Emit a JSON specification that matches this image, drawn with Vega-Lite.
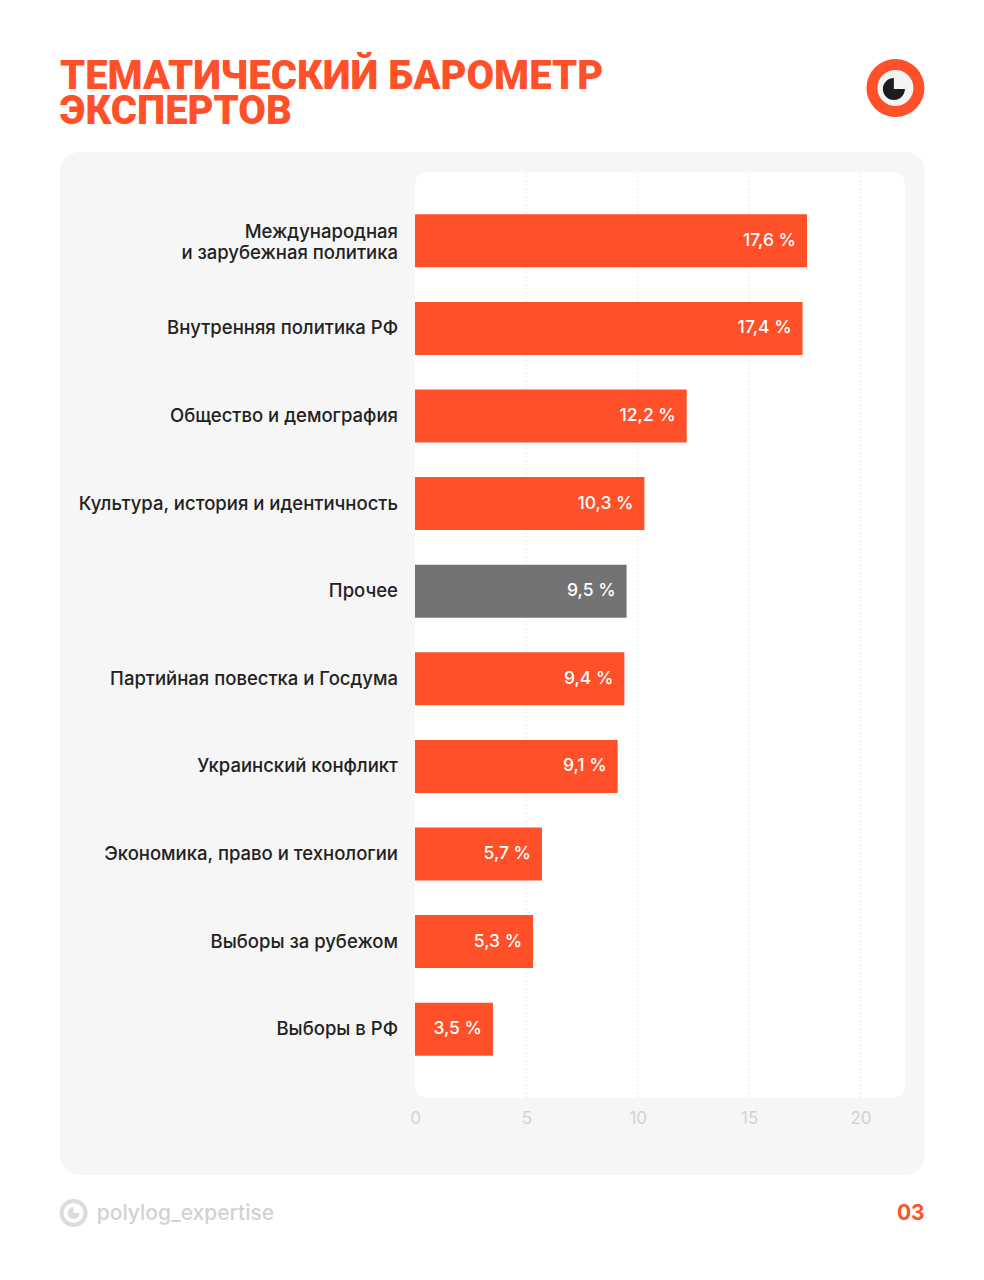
{
  "$schema": "https://vega.github.io/schema/vega-lite/v6.json",
  "width": 865,
  "height": 1023,
  "autosize": {"type": "none"},
  "padding": {"left": 60, "top": 152, "right": 59, "bottom": 105},
  "background": "#ffffff",
  "title": {
    "text": ["ТЕМАТИЧЕСКИЙ БАРОМЕТР", "ЭКСПЕРТОВ"],
    "anchor": "start",
    "frame": "group",
    "font": "Roboto",
    "fontWeight": 900,
    "fontSize": 40,
    "lineHeight": 35,
    "color": "#FF5029",
    "offset": -73
  },
  "layer": [
    {
      "data": {"values": [{}]},
      "layer": [
        {
          "mark": {"type": "rect", "fill": "#ffffff", "cornerRadius": 12},
          "encoding": {
            "x": {"datum": 0},
            "x2": {"datum": 22},
            "y": {"datum": 172, "scale": {"domain": [0, 1280], "range": [-152, 1128], "nice": false, "zero": false}, "axis": null},
            "y2": {"datum": 1098}
          }
        },
        {
          "data": {"values": [{"tick": 5}, {"tick": 10}, {"tick": 15}, {"tick": 20}]},
          "mark": {"type": "rule", "stroke": "#e9e9e9", "strokeWidth": 1, "strokeDash": [2, 2]},
          "encoding": {
            "x": {"field": "tick", "type": "quantitative"},
            "y": {"datum": 172},
            "y2": {"datum": 1098}
          }
        },
        {
          "mark": {"type": "arc", "radius": 29, "radius2": 0, "theta": 0, "theta2": 6.2832, "fill": "#FF5029"},
          "encoding": {"x": {"datum": 21.57}, "y": {"datum": 88}}
        },
        {
          "mark": {"type": "arc", "radius": 18, "radius2": 0, "theta": 0, "theta2": 6.2832, "fill": "#f4f4f4"},
          "encoding": {"x": {"datum": 21.57}, "y": {"datum": 88}}
        },
        {
          "mark": {"type": "arc", "radius": 11, "radius2": 0, "theta": 1.5708, "theta2": 6.2832, "fill": "#1c1c1c"},
          "encoding": {"x": {"datum": 21.5}, "y": {"datum": 89}}
        },
        {
          "mark": {"type": "arc", "radius": 14, "radius2": 10, "theta": 0, "theta2": 6.2832, "fill": "#dcdcdc"},
          "encoding": {"x": {"datum": -15.33}, "y": {"datum": 1213}}
        },
        {
          "mark": {"type": "arc", "radius": 6, "radius2": 0, "theta": 1.5708, "theta2": 6.2832, "fill": "#dcdcdc"},
          "encoding": {"x": {"datum": -15.33}, "y": {"datum": 1213}}
        },
        {
          "mark": {"type": "text", "text": "polylog_expertise", "align": "left", "baseline": "middle", "font": "Inter", "fontSize": 21, "fontWeight": 500, "color": "#d2d2d2"},
          "encoding": {"x": {"datum": -14.29}, "y": {"datum": 1214}}
        },
        {
          "mark": {"type": "text", "text": "03", "align": "right", "baseline": "middle", "font": "Inter", "fontSize": 21, "fontWeight": 700, "color": "#FF5029"},
          "encoding": {"x": {"datum": 22.88}, "y": {"datum": 1214}}
        }
      ]
    },
    {
      "data": {
        "values": [
          {"topic": "Международная\nи зарубежная политика", "share": 17.6, "kind": "theme"},
          {"topic": "Внутренняя политика РФ", "share": 17.4, "kind": "theme"},
          {"topic": "Общество и демография", "share": 12.2, "kind": "theme"},
          {"topic": "Культура, история и идентичность", "share": 10.3, "kind": "theme"},
          {"topic": "Прочее", "share": 9.5, "kind": "other"},
          {"topic": "Партийная повестка и Госдума", "share": 9.4, "kind": "theme"},
          {"topic": "Украинский конфликт", "share": 9.1, "kind": "theme"},
          {"topic": "Экономика, право и технологии", "share": 5.7, "kind": "theme"},
          {"topic": "Выборы за рубежом", "share": 5.3, "kind": "theme"},
          {"topic": "Выборы в РФ", "share": 3.5, "kind": "theme"}
        ]
      },
      "encoding": {
        "y": {
          "field": "topic",
          "type": "nominal",
          "sort": null,
          "axis": null,
          "scale": {"range": [20, 946], "paddingInner": 0.395, "paddingOuter": 0.483}
        }
      },
      "layer": [
        {
          "mark": {"type": "bar"},
          "encoding": {
            "x": {
              "field": "share",
              "type": "quantitative",
              "scale": {"domain": [0, 22], "range": [355, 845], "nice": false, "zero": true},
              "axis": {
                "values": [0, 5, 10, 15, 20],
                "title": null,
                "domain": false,
                "ticks": false,
                "grid": false,
                "offset": -77,
                "labelPadding": 12,
                "labelFlush": false,
                "labelFont": "Inter",
                "labelFontSize": 17,
                "labelColor": "#d2d2d2"
              }
            },
            "color": {
              "field": "kind",
              "type": "nominal",
              "scale": {"domain": ["theme", "other"], "range": ["#FF5029", "#737373"]},
              "legend": null
            }
          }
        },
        {
          "mark": {"type": "text", "align": "right", "baseline": "middle", "dx": -11, "font": "Inter", "fontSize": 17.5, "fontWeight": 500, "color": "#ffffff"},
          "encoding": {
            "x": {"field": "share", "type": "quantitative"},
            "text": {"field": "share", "type": "quantitative", "format": "$.1f"}
          }
        },
        {
          "transform": [{"filter": "indexof(datum.topic, '\\n') < 0"}],
          "mark": {"type": "text", "align": "right", "baseline": "middle", "dx": -17, "font": "Inter", "fontSize": 18.5, "fontWeight": 500, "color": "#222222"},
          "encoding": {
            "x": {"datum": 0},
            "text": {"field": "topic", "type": "nominal"}
          }
        },
        {
          "transform": [{"filter": "indexof(datum.topic, '\\n') >= 0"}],
          "mark": {"type": "text", "align": "right", "baseline": "middle", "dx": -17, "dy": -9, "lineBreak": "\n", "lineHeight": 21, "font": "Inter", "fontSize": 18.5, "fontWeight": 500, "color": "#222222"},
          "encoding": {
            "x": {"datum": 0},
            "text": {"field": "topic", "type": "nominal"}
          }
        }
      ]
    }
  ],
  "resolve": {"scale": {"y": "independent"}},
  "config": {
    "view": {"fill": "#f6f6f6", "stroke": null, "cornerRadius": 20},
    "locale": {
      "number": {"decimal": ",", "thousands": " ", "grouping": [3], "currency": ["", " %"]}
    }
  }
}
